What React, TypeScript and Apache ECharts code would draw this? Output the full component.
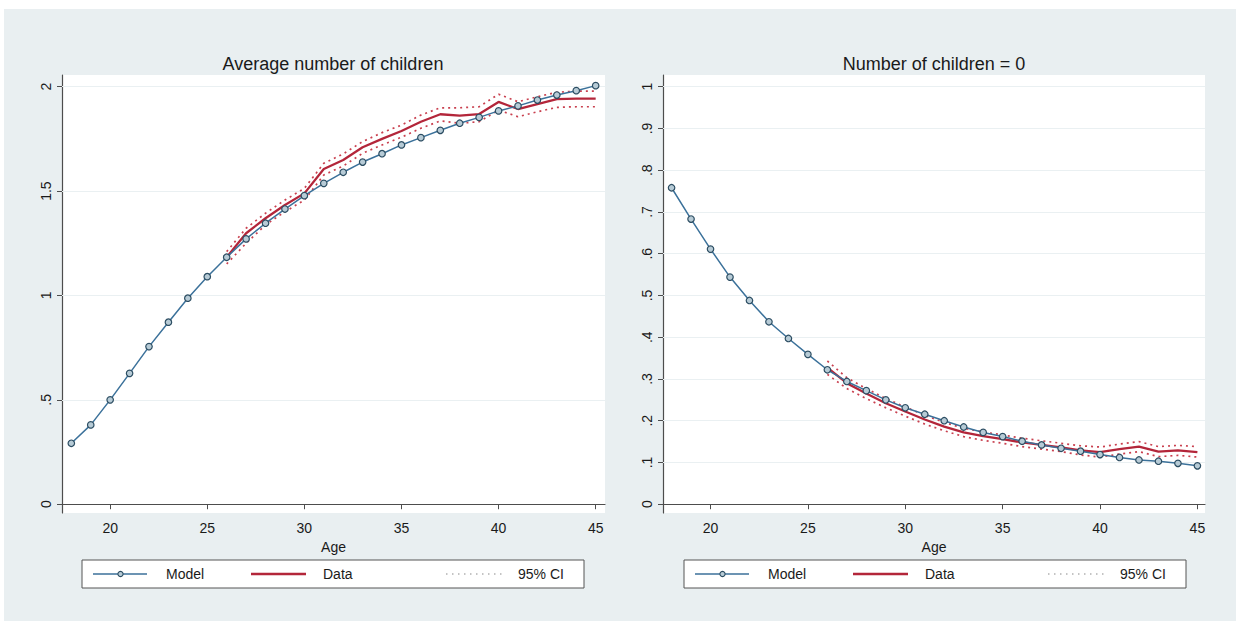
import React, { useEffect, useRef } from "react";
import * as echarts from "echarts";

// Ages covered by the model and by the observed data
const modelAges = [18, 19, 20, 21, 22, 23, 24, 25, 26, 27, 28, 29, 30, 31, 32, 33, 34, 35, 36, 37, 38, 39, 40, 41, 42, 43, 44, 45];
const dataAges = [26, 27, 28, 29, 30, 31, 32, 33, 34, 35, 36, 37, 38, 39, 40, 41, 42, 43, 44, 45];

// Average number of children
const modelAvg = [0.292, 0.38, 0.5, 0.627, 0.755, 0.872, 0.987, 1.09, 1.183, 1.271, 1.346, 1.414, 1.478, 1.537, 1.59, 1.639, 1.679, 1.721, 1.756, 1.791, 1.825, 1.853, 1.884, 1.908, 1.936, 1.96, 1.981, 2.005];
const dataAvg = [1.183, 1.298, 1.37, 1.433, 1.489, 1.606, 1.649, 1.71, 1.75, 1.788, 1.832, 1.868, 1.861, 1.869, 1.927, 1.893, 1.917, 1.94, 1.943, 1.943];
const ciAvgHi = [1.21, 1.322, 1.394, 1.457, 1.513, 1.633, 1.678, 1.737, 1.78, 1.816, 1.864, 1.899, 1.899, 1.904, 1.964, 1.928, 1.952, 1.973, 1.979, 1.979];
const ciAvgLo = [1.151, 1.25, 1.338, 1.401, 1.457, 1.577, 1.62, 1.681, 1.721, 1.758, 1.801, 1.836, 1.825, 1.832, 1.888, 1.856, 1.88, 1.901, 1.904, 1.904];

// Share with zero children
const modelZero = [0.758, 0.683, 0.611, 0.544, 0.488, 0.437, 0.397, 0.359, 0.322, 0.294, 0.272, 0.25, 0.231, 0.2155, 0.2, 0.185, 0.172, 0.162, 0.151, 0.142, 0.134, 0.127, 0.119, 0.112, 0.106, 0.103, 0.098, 0.092];
const dataZero = [0.327, 0.29, 0.265, 0.242, 0.222, 0.203, 0.186, 0.172, 0.163, 0.156, 0.148, 0.142, 0.136, 0.129, 0.125, 0.132, 0.138, 0.126, 0.129, 0.125];
const ciZeroHi = [0.343, 0.303, 0.277, 0.253, 0.233, 0.213, 0.196, 0.182, 0.173, 0.166, 0.158, 0.152, 0.146, 0.14, 0.137, 0.144, 0.15, 0.138, 0.141, 0.138];
const ciZeroLo = [0.311, 0.277, 0.253, 0.231, 0.211, 0.192, 0.176, 0.162, 0.153, 0.146, 0.138, 0.132, 0.126, 0.118, 0.113, 0.12, 0.126, 0.114, 0.117, 0.113];

// Tick labels
const xTicks = [20, 25, 30, 35, 40, 45];
const yTicksAvg = [0, 0.5, 1, 1.5, 2];
const yTicksZero = [0, 0.1, 0.2, 0.3, 0.4, 0.5, 0.6, 0.7, 0.8, 0.9, 1];

const titles = ["Average number of children", "Number of children = 0"];
const legendNames = ["Model", "Data", "95% CI"];

const BLUE = "#3b719a";
const RED = "#b3263a";
const CI_RED = "#c9404f";
const AXIS = "#4d4d4d";
const INK = "#1a1a1a";
const FONT = "Liberation Sans, Arial, Helvetica, sans-serif";

const pairs = (xs: number[], ys: number[]) => xs.map((x, i) => [x, ys[i]]);
const fmt = (v: number) => String(v).replace(/^0\./, ".");

function panelSeries(idx: number, model: number[], data: number[], hi: number[], lo: number[], grid: number[]) {
  const common = { xAxisIndex: idx, yAxisIndex: idx, type: "line", silent: true };
  const ciStyle = { color: CI_RED, width: 1.7, type: [2, 4] };
  return [
    { ...common, name: "ciHi" + idx, data: pairs(dataAges, hi), symbol: "none", lineStyle: ciStyle, z: 2 },
    { ...common, name: "ciLo" + idx, data: pairs(dataAges, lo), symbol: "none", lineStyle: ciStyle, z: 2 },
    {
      ...common,
      name: "data" + idx,
      data: pairs(dataAges, data),
      symbol: "none",
      lineStyle: { color: RED, width: 2.3 },
      z: 3,
    },
    {
      ...common,
      name: "model" + idx,
      data: pairs(modelAges, model),
      symbol: "circle",
      symbolSize: 6.5,
      itemStyle: { color: "#b7cbd6", borderColor: "#2c4d62", borderWidth: 1.2 },
      lineStyle: { color: BLUE, width: 1.5 },
      z: 4,
      markLine: {
        silent: true,
        symbol: "none",
        label: { show: false },
        lineStyle: { color: "#eaf0f2", width: 1, type: "solid" },
        data: grid.filter((v) => v !== 0).map((v) => ({ yAxis: v })),
        z: 1,
      },
    },
  ];
}

function legendGraphics(left: number, top: number) {
  const w = 502;
  const h = 28;
  const cy = top + h / 2;
  const txt = (x: number, s: string) => ({
    type: "text",
    x,
    y: cy,
    style: { text: s, fontSize: 14, fontFamily: FONT, fill: INK, verticalAlign: "middle", align: "left" },
  });
  return [
    {
      type: "rect",
      shape: { x: left, y: top, width: w, height: h },
      style: { fill: "#ffffff", stroke: "#555555", lineWidth: 1 },
    },
    { type: "line", shape: { x1: left + 11, y1: cy, x2: left + 65, y2: cy }, style: { stroke: BLUE, lineWidth: 1.5 } },
    {
      type: "circle",
      shape: { cx: left + 38.5, cy, r: 2.6 },
      style: { fill: "#b7cbd6", stroke: "#2c4d62", lineWidth: 1.1 },
    },
    txt(left + 84, legendNames[0]),
    { type: "line", shape: { x1: left + 169, y1: cy, x2: left + 224, y2: cy }, style: { stroke: RED, lineWidth: 2.3 } },
    txt(left + 241, legendNames[1]),
    {
      type: "line",
      shape: { x1: left + 364, y1: cy, x2: left + 421, y2: cy },
      style: { stroke: "#8a8a8a", lineWidth: 1.2, lineDash: [1.5, 4.5] },
    },
    txt(left + 436, legendNames[2]),
  ];
}

function axisPair(idx: number, xMin: number, xMax: number, yMin: number, yMax: number, yTicks: number[]) {
  const x = {
    type: "value",
    gridIndex: idx,
    min: xMin,
    max: xMax,
    name: "Age",
    nameLocation: "middle",
    nameGap: 26,
    nameTextStyle: { color: INK, fontSize: 14, fontFamily: FONT },
    axisLine: { show: true, lineStyle: { color: AXIS, width: 1.2 } },
    axisTick: { show: true, length: 5, customValues: xTicks, lineStyle: { color: AXIS } },
    axisLabel: { customValues: xTicks, color: INK, fontSize: 14, fontFamily: FONT, margin: 8 },
    splitLine: { show: false },
  };
  const y = {
    type: "value",
    gridIndex: idx,
    min: yMin,
    max: yMax,
    axisLine: { show: true, lineStyle: { color: AXIS, width: 1.2 } },
    axisTick: { show: true, length: 5, customValues: yTicks, lineStyle: { color: AXIS } },
    axisLabel: {
      customValues: yTicks,
      rotate: 90,
      formatter: (v: number) => fmt(v),
      color: INK,
      fontSize: 14,
      fontFamily: FONT,
      margin: 9,
    },
    splitLine: { show: false },
  };
  return { x, y };
}

export default function App() {
  const ref = useRef<HTMLDivElement>(null);

  useEffect(() => {
    document.body.style.margin = "0";
    if (!ref.current) return;
    const chart = echarts.init(ref.current, undefined, { renderer: "svg" });

    const a = axisPair(0, 17.52, 45.48, -0.042, 2.056, yTicksAvg);
    const b = axisPair(1, 17.56, 45.39, -0.021, 1.028, yTicksZero);

    chart.setOption({
      animation: false,
      backgroundColor: "#ffffff",
      textStyle: { fontFamily: FONT },
      grid: [
        { left: 62, top: 75, width: 543, height: 438, show: true, backgroundColor: "#ffffff", borderWidth: 0 },
        { left: 663, top: 75, width: 542, height: 438, show: true, backgroundColor: "#ffffff", borderWidth: 0 },
      ],
      xAxis: [a.x, b.x],
      yAxis: [a.y, b.y],
      series: [
        ...panelSeries(0, modelAvg, dataAvg, ciAvgHi, ciAvgLo, yTicksAvg),
        ...panelSeries(1, modelZero, dataZero, ciZeroHi, ciZeroLo, yTicksZero),
      ],
      graphic: [
        {
          type: "rect",
          z: -10,
          silent: true,
          shape: { x: 4, y: 9, width: 1232, height: 612 },
          style: { fill: "#e9eff1" },
        },
        {
          type: "text",
          x: 333,
          y: 64,
          style: { text: titles[0], fontSize: 18, fontFamily: FONT, fill: INK, align: "center", verticalAlign: "middle" },
        },
        {
          type: "text",
          x: 934,
          y: 64,
          style: { text: titles[1], fontSize: 18, fontFamily: FONT, fill: INK, align: "center", verticalAlign: "middle" },
        },
        ...legendGraphics(82, 560),
        ...legendGraphics(684, 560),
      ],
    });

    return () => chart.dispose();
  }, []);

  return <div ref={ref} style={{ width: 1240, height: 630 }} />;
}
